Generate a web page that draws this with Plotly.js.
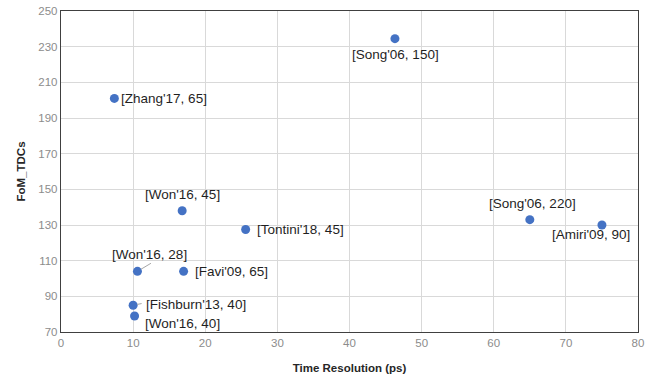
<!DOCTYPE html>
<html><head><meta charset="utf-8">
<script src="https://cdn.plot.ly/plotly-3.0.1.min.js"></script>
<style>html,body{margin:0;padding:0;background:#fff}#c{width:658px;height:379px}</style>
</head><body><div id="c"></div>
<script>
const labels = ["[Zhang'17, 65]","[Won'16, 45]","[Tontini'18, 45]","[Won'16, 28]","[Favi'09, 65]","[Fishburn'13, 40]","[Won'16, 40]","[Song'06, 150]","[Song'06, 220]","[Amiri'09, 90]"];
const timeRes = [7.4, 16.8, 25.6, 10.6, 17.0, 10.0, 10.2, 46.3, 65.0, 75.0];
const fom = [201, 138, 127.5, 104, 104, 85, 79, 234.5, 133, 130];
const xTicks = [0,10,20,30,40,50,60,70,80];
const yTicks = [70,90,110,130,150,170,190,210,230,250];

// label placement (pixel offsets from each point); leader = end of leader line offset
const place = [
  {xa:'left', dx:5, dy:0},
  {xa:'center', dx:0, dy:16},
  {xa:'left', dx:9, dy:0},
  {xa:'center', dx:12, dy:17, leader:[15,9]},
  {xa:'left', dx:9, dy:0},
  {xa:'left', dx:11, dy:1, leader:[10,2]},
  {xa:'left', dx:8, dy:-8},
  {xa:'center', dx:1, dy:-16},
  {xa:'center', dx:3, dy:16},
  {xa:'center', dx:-11, dy:-9}
];
const FF = 'Liberation Sans, Arial, sans-serif';
const font = {family:FF, size:13.5, color:'#1f1f1f'};
const annotations = [];
labels.forEach((t,i)=>{
  const p = place[i];
  annotations.push({x:timeRes[i], y:fom[i], xref:'x', yref:'y', text:t, showarrow:false,
    xanchor:p.xa, yanchor:'middle', xshift:p.dx, yshift:p.dy, font:font});
  if (p.leader) {
    annotations.push({x:timeRes[i], y:fom[i], xref:'x', yref:'y', text:'', showarrow:true,
      arrowhead:0, arrowwidth:1, arrowcolor:'#a6a6a6', ax:p.leader[0], ay:-p.leader[1],
      standoff:4});
  }
});

const trace = {x:timeRes, y:fom, mode:'markers', type:'scatter',
  marker:{color:'#4472C4', size:9}, hoverinfo:'skip'};

const layout = {
  width:658, height:379,
  margin:{l:61, r:20, t:11, b:47},
  paper_bgcolor:'#fff', plot_bgcolor:'#fff',
  showlegend:false,
  xaxis:{range:[0,80], tickvals:xTicks, ticktext:xTicks.map(String),
    showgrid:true, gridcolor:'#d9d9d9', gridwidth:1, zeroline:false,
    showline:true, mirror:true, linecolor:'#404040', linewidth:1.2,
    ticks:'', ticklen:0, tickfont:{family:FF, size:11.5, color:'#8c8c8c'},
    title:{text:'<b>Time Resolution (ps)</b>', font:{family:FF, size:11.5, color:'#262626'}, standoff:16}},
  yaxis:{range:[70,250], tickvals:yTicks, ticktext:yTicks.map(String),
    showgrid:true, gridcolor:'#d9d9d9', gridwidth:1, zeroline:false,
    showline:true, mirror:true, linecolor:'#404040', linewidth:1.2,
    ticks:'', ticklen:0, tickfont:{family:FF, size:11.5, color:'#8c8c8c'},
    title:{text:'<b>FoM_TDCs</b>', font:{family:FF, size:11.5, color:'#262626'}, standoff:10}},
  annotations:annotations
};
Plotly.newPlot('c',[trace],layout,{displayModeBar:false, staticPlot:true});
</script>
</body></html>
